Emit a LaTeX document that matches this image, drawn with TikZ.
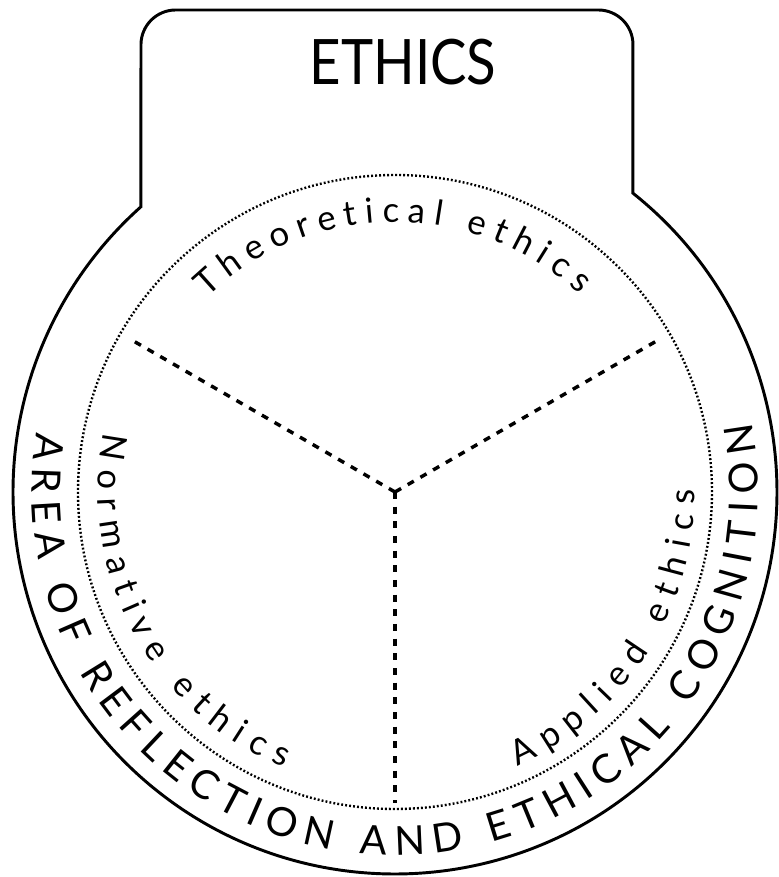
\documentclass[tikz,border=0pt]{standalone}
\usepackage{fontspec}
\setmainfont{Lato}
\usetikzlibrary{decorations.text}
\newcommand\titlefont{\fontsize{47}{47}\selectfont}
\newcommand\ringfont{\fontsize{30}{30}\selectfont}
\newcommand\partfont{\fontsize{26}{26}\selectfont}

\begin{document}
\begin{tikzpicture}[x=0.75pt, y=0.75pt,
  rim/.style={line width=2.2pt},
  dotline/.style={line width=1.8pt, dash pattern=on 1.4pt off 1.6pt},
  spoke/.style={line width=2.6pt, dash pattern=on 5.3pt off 5.7pt},
  arctext/.style={decorate, decoration={text along path, text align=fit to path, text={#1}}}]
  \useasboundingbox (-395,-385) rectangle (383,492);
  \coordinate (c) at (0,0);
  % outline: tab on top of the big circle
  \draw[rim] (131.7:382) [rounded corners=26pt] -- (-254,482) -- (238,482) [sharp corners] -- (51.5:382)
    arc[start angle=51.5, end angle=-228.3, radius=382] -- cycle;
  \node[inner sep=0pt, xscale=0.87] (title) at (8,430) {\titlefont ETHICS};
  % inner dotted circle
  \draw[dotline] (c) circle[radius=317];
  % spokes
  \foreach \a/\r/\n in {150/307/sl, 30/307/sr, 270/311/sb} {
    \coordinate (\n) at (\a:\r);
    \draw[spoke] (c) -- (\n);
  }
  % labels along the circles
  \path[arctext={|\partfont|Theoretical ethics}] (134:270) arc[start angle=134, end angle=47, radius=270];
  \path[arctext={|\partfont|Normative ethics}] (168.5:297) arc[start angle=168.5, end angle=248, radius=297];
  \path[arctext={|\partfont|Applied ethics}] (294:300) arc[start angle=294, end angle=360.4, radius=300];
  \path[arctext={|\ringfont|AREA OF REFLECTION AND ETHICAL COGNITION}] (170.5:363) arc[start angle=170.5, end angle=371, radius=363];
\end{tikzpicture}
\end{document}
